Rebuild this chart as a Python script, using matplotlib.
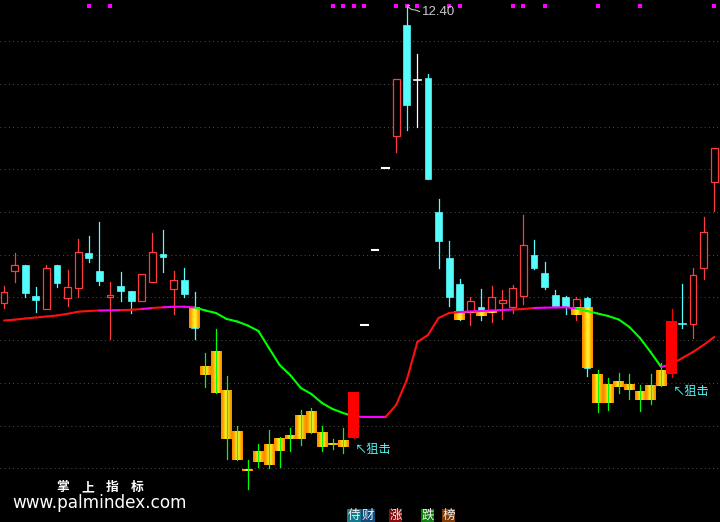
import numpy as np
import matplotlib
matplotlib.use("Agg")
import matplotlib.pyplot as plt
from matplotlib.patches import Rectangle
from matplotlib.collections import LineCollection
from matplotlib.colors import LinearSegmentedColormap
from matplotlib.transforms import blended_transform_factory

CJK = ['Noto Sans CJK SC', 'DejaVu Sans']

# ---------------- data ----------------
opens = [9.43, 9.75, 9.81, 9.50, 9.37, 9.81, 9.48, 9.58, 9.93, 9.75,
         9.49, 9.60, 9.55, 9.45, 9.64, 9.92, 9.57, 9.66, 9.38, 8.80,
         8.95, 8.55, 8.15, 7.77, 7.95, 8.02, 8.08, 8.11, 8.31, 8.35,
         8.14, 8.03, 8.05, 8.08, 9.21, 9.96, 10.78, 11.10, 12.21, 11.66,
         11.68, 10.34, 9.88, 9.62, 9.34, 9.39, 9.34, 9.43, 9.39, 9.50,
         9.91, 9.73, 9.51, 9.49, 9.38, 9.48, 8.72, 8.62, 8.65, 8.62,
         8.55, 8.61, 8.76, 8.72, 9.22, 9.22, 9.78, 10.64]
highs = [9.60, 9.93, 9.81, 9.59, 9.81, 9.81, 9.76, 10.07, 10.10, 10.24,
         9.64, 9.74, 9.55, 9.72, 10.13, 10.16, 9.75, 9.78, 9.54, 8.93,
         9.17, 8.70, 8.20, 7.86, 8.02, 8.16, 8.09, 8.18, 8.36, 8.38,
         8.20, 8.07, 8.18, 8.54, 9.21, 9.96, 10.78, 11.67, 12.40, 11.92,
         11.72, 10.47, 10.05, 9.67, 9.49, 9.57, 9.60, 9.56, 9.61, 10.31,
         10.06, 9.84, 9.56, 9.50, 9.49, 9.49, 8.76, 8.68, 8.73, 8.72,
         8.61, 8.72, 8.83, 9.37, 9.62, 9.78, 10.29, 10.98]
lows = [9.38, 9.64, 9.49, 9.34, 9.37, 9.59, 9.40, 9.49, 9.84, 9.61,
        9.07, 9.45, 9.33, 9.45, 9.64, 9.74, 9.32, 9.49, 9.07, 8.59,
        8.53, 7.87, 7.86, 7.57, 7.79, 7.78, 7.79, 7.95, 8.01, 8.13,
        7.95, 7.97, 7.93, 8.08, 9.21, 9.96, 10.78, 10.94, 11.16, 11.19,
        10.67, 9.78, 9.40, 9.26, 9.21, 9.26, 9.24, 9.27, 9.33, 9.42,
        9.77, 9.57, 9.40, 9.32, 9.26, 8.70, 8.34, 8.36, 8.53, 8.47,
        8.35, 8.42, 8.60, 8.69, 9.18, 9.08, 9.67, 10.35]
closes = [9.54, 9.81, 9.53, 9.46, 9.78, 9.63, 9.59, 9.94, 9.88, 9.65,
          9.51, 9.55, 9.45, 9.72, 9.94, 9.89, 9.66, 9.52, 9.18, 8.71,
          8.53, 8.07, 7.86, 7.75, 7.84, 7.81, 7.95, 8.07, 8.07, 8.13,
          7.99, 8.01, 7.99, 8.54, 9.21, 9.96, 10.78, 11.67, 11.41, 11.66,
          10.67, 10.05, 9.49, 9.34, 9.45, 9.35, 9.49, 9.46, 9.58, 10.01,
          9.78, 9.59, 9.40, 9.39, 9.47, 8.78, 8.43, 8.43, 8.59, 8.56,
          8.46, 8.46, 8.60, 9.25, 9.22, 9.71, 10.14, 10.98]
# n normal, o orange zone, s signal bar, d one-price, w white doji, c cyan doji
kinds = ("n" * 19 + "o" * 14 + "s" + "ddd" + "nn" + "w" + "n" * 16
         + "o" * 7 + "s" + "c" + "nnn")

ma_line = [9.255, 9.263, 9.275, 9.285, 9.295, 9.305, 9.322, 9.343, 9.350, 9.355,
           9.357, 9.359, 9.362, 9.370, 9.380, 9.387, 9.392, 9.393, 9.385, 9.355,
           9.330, 9.270, 9.245, 9.205, 9.150, 8.980, 8.810, 8.710, 8.580, 8.520,
           8.430, 8.370, 8.330, 8.295, 8.290, 8.290, 8.290, 8.410, 8.660, 9.040,
           9.110, 9.280, 9.330, 9.340, 9.345, 9.350, 9.355, 9.360, 9.365, 9.370,
           9.380, 9.383, 9.385, 9.387, 9.375, 9.350, 9.325, 9.300, 9.265, 9.190,
           9.080, 8.940, 8.790, 8.820, 8.880, 8.940, 9.010, 9.090]
ma_state = ("r" * 9 + "mm" + "rr" + "m" + "r" + "mmm" + "g" * 15 + "mmm"
            + "r" * 7 + "m" * 5 + "rr" + "mmmm" + "g" * 8 + "m" + "rrrr")

overlay_idx = [18, 43, 44, 45, 46, 54, 55]
overlay_top = [9.38, 9.35, 9.35, 9.35, 9.35, 9.38, 9.38]
overlay_bot = [9.18, 9.26, 9.33, 9.30, 9.33, 9.31, 8.78]

dot_idx = [8, 10, 31, 32, 33, 34, 37, 38, 39, 42, 43, 48, 49, 51, 56, 60, 67]

snipe_idx = [33, 63]
snipe_y = [8.03, 8.61]
snipe_text = "↖狙击"

grid_levels = [12.05, 11.62, 11.19, 10.77, 10.34, 9.91, 9.49, 9.06, 8.63, 8.20, 7.78]
high_label = "12.40"

tab_labels = ["侍", "财", "涨", "跌", "榜"]
tab_colors = ["#127a8a", "#0f4a78", "#850a0a", "#0a7d0a", "#7d3a08"]

# ---------------- style ----------------
RED = "#FF3C3C"
CYAN = "#54FCFC"
SIG = "#FF0000"
GREEN = "#00FF00"
MAG = "#FF00FF"
state_colors = {"r": "#FF1010", "m": MAG, "g": GREEN}

fig = plt.figure(figsize=(7.2, 5.22), dpi=100, facecolor="black")
ax = fig.add_axes([0, 0, 1, 1])
ax.set_facecolor("black")
n = len(opens)

# grid
for g in grid_levels:
    ax.axhline(g, color="#4a4a4a", lw=0.75, linestyle=(0, (1, 3)), zorder=0.5)

bw = 0.64
grad = np.linspace(0, 1, 64).reshape(1, -1)
ocmap = LinearSegmentedColormap.from_list(
    "og", ["#FF8400", "#FFA600", "#FFE41C", "#FFF030", "#FFB000", "#FF8400"])


def orange_bar(i, bot, top):
    ax.imshow(grad, cmap=ocmap, extent=[i - 0.5, i + 0.5, bot, top],
              aspect="auto", interpolation="bilinear", zorder=3)


for i in range(n):
    o, h, l, c, k = opens[i], highs[i], lows[i], closes[i], kinds[i]
    lo, hi = min(o, c), max(o, c)
    if k == "n":
        if c > o:
            ax.plot([i, i], [hi, h], color=RED, lw=0.9, zorder=2)
            ax.plot([i, i], [l, lo], color=RED, lw=0.9, zorder=2)
            ax.add_patch(Rectangle((i - bw / 2, lo), bw, hi - lo, facecolor="black",
                                   edgecolor=RED, lw=0.9, zorder=2.1))
        else:
            ax.plot([i, i], [l, h], color=CYAN, lw=0.9, zorder=2)
            ax.add_patch(Rectangle((i - bw / 2, lo), bw, max(hi - lo, 0.01),
                                   facecolor=CYAN, edgecolor=CYAN, lw=0.5, zorder=2.1))
    elif k in "wc":
        col = "white" if k == "w" else CYAN
        ax.plot([i, i], [l, h], color=col, lw=0.9, zorder=2)
        ax.plot([i - bw / 2, i + bw / 2], [o, o], color=col, lw=1.2, zorder=2)
    elif k == "d":
        ax.plot([i - bw / 2, i + bw / 2], [o, o], color="white", lw=1.5, zorder=2)
    elif k == "o":
        orange_bar(i, lo, hi)
        ax.plot([i, i], [l, h], color=GREEN, lw=0.9, zorder=3.5)

for i, t, b in zip(overlay_idx, overlay_top, overlay_bot):
    orange_bar(i, b, t)

# MA line
segs, cols = [], []
for i in range(n - 1):
    segs.append([(i, ma_line[i]), (i + 1, ma_line[i + 1])])
    cols.append(state_colors[ma_state[i]])
ax.add_collection(LineCollection(segs, colors=cols, linewidths=1.5,
                                 capstyle="round", zorder=4))

# signal bars
for i in range(n):
    if kinds[i] == "s":
        o, h, l, c = opens[i], highs[i], lows[i], closes[i]
        ax.plot([i, i], [l, h], color=SIG, lw=0.9, zorder=5)
        ax.add_patch(Rectangle((i - 0.5, min(o, c)), 1.0, abs(c - o),
                               facecolor=SIG, edgecolor=SIG, lw=0, zorder=5.1))

for i, y in zip(snipe_idx, snipe_y):
    ax.text(i + 0.1, y, snipe_text, color=CYAN, fontsize=8.8, family=CJK,
            va="top", ha="left", zorder=6)

# top signal dots
trans = blended_transform_factory(ax.transData, ax.transAxes)
ax.plot(dot_idx, [1 - 6 / 522] * len(dot_idx), linestyle="none", marker="s",
        markersize=2.2, color=MAG, markeredgewidth=0, transform=trans, zorder=6)

# high marker label
ih = int(np.argmax(highs))
hv = highs[ih]
ax.plot([ih, ih, ih + 0.22], [hv - 0.03, hv + 0.01, hv + 0.01], color="#c0c0c0",
        lw=0.8, zorder=6)
ax.plot([ih + 0.12, ih + 0.45, ih + 0.8, ih + 1.2],
        [hv - 0.01, hv - 0.035, hv - 0.04, hv - 0.055], color="#c0c0c0", lw=0.8, zorder=6)
ax.text(ih + 1.43, hv - 0.06, high_label, color="#c8c8c8", fontsize=9.5,
        family="Liberation Sans", va="center", ha="left", zorder=6)

ax.set_xlim(-0.377, 67.55)
ax.set_ylim(7.24, 12.46)
ax.axis("off")

# watermark
for ch, px in zip("掌上指标", [62.5, 87.5, 112, 137]):
    fig.text(px / 720, 1 - 487.5 / 522, ch, color="white", fontsize=9.2,
             fontweight="bold", family=CJK, ha="center", va="center")
fig.text(99.5 / 720, 1 - 503.5 / 522, "www.palmindex.com", color="white",
         fontsize=12.2, family="DejaVu Sans", ha="center", va="center")

# bottom tabs
tab_x = [(347, 361), (361, 375), (389, 402), (421, 434), (442, 455)]
for (x0, x1), lab, col in zip(tab_x, tab_labels, tab_colors):
    fig.patches.append(Rectangle((x0 / 720, 0), (x1 - x0) / 720, 13 / 522,
                                 transform=fig.transFigure, facecolor=col,
                                 edgecolor="none", zorder=1))
    fig.text((x0 + x1) / 2 / 720, 1 - 515.5 / 522, lab, color="#f0f0f0",
             fontsize=9, family=CJK, ha="center", va="center", zorder=2)

fig.savefig("out.png", dpi=100, facecolor="black")
